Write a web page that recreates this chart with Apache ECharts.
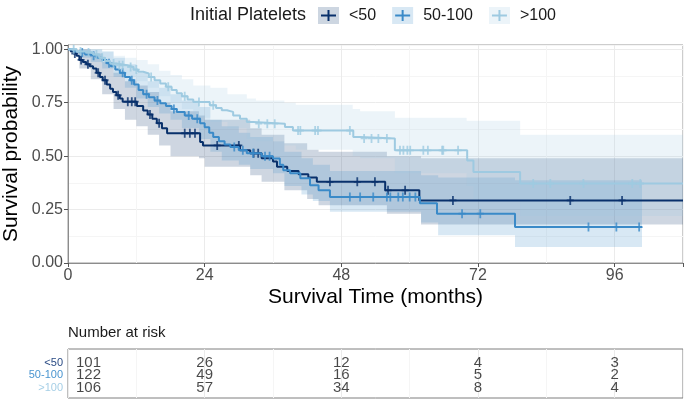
<!DOCTYPE html>
<html><head><meta charset="utf-8">
<script src="https://cdn.jsdelivr.net/npm/echarts/dist/echarts.min.js"></script>
<style>html,body{margin:0;padding:0;background:#fff}#c{width:685px;height:406px}</style>
</head><body><div id="c"></div>
<script>
// ---------- data ----------
const groups = ['<50', '50-100', '>100'];
const xTicks = [0, 24, 48, 72, 96];
const yTicks = [0, 0.25, 0.5, 0.75, 1];

// Kaplan-Meier step curves (time in months, survival probability)
const lowT = [0,0.5,1.0,1.5,2.0,2.6,3.2,3.8,4.4,5.0,5.6,6.1,6.8,7.4,7.9,8.5,9.1,9.6,12.1,13.2,14.0,14.8,15.6,16.5,17.4,23.2,23.7,30.2,32.0,34.0,36.0,36.7,38.5,40.5,42.2,43.7,55.7,61.7];
const lowS = [1,0.99,0.98,0.97,0.95,0.94,0.93,0.92,0.91,0.89,0.87,0.855,0.835,0.815,0.80,0.785,0.77,0.755,0.735,0.714,0.695,0.675,0.654,0.63,0.607,0.566,0.55,0.527,0.513,0.49,0.475,0.45,0.43,0.415,0.40,0.38,0.34,0.293];
const lowEnd = 108;
const lowCens = [1.2,2.3,3.5,5.3,6.5,8.8,10.5,11.2,11.8,14.4,16.0,20.5,21.4,22.3,26.2,30.0,32.6,33.4,46,50.8,53.9,56.2,59.2,67.6,88.2,97.3];

const midT = [0,1,2,3,4,5,6,6.8,7.5,8.3,9.1,10,10.9,11.6,12.4,13.2,14.2,15.2,16.2,17.2,18.2,19.1,20.5,21.8,23.2,24.0,24.8,25.5,26.5,27.5,28.5,30,31.4,34,36,37.2,37.8,39,40.8,42.5,44,46,61.8,64.8,78.5];
const midS = [1,0.99,0.985,0.975,0.97,0.96,0.95,0.935,0.92,0.905,0.89,0.87,0.855,0.835,0.81,0.79,0.775,0.76,0.747,0.735,0.72,0.707,0.69,0.675,0.654,0.635,0.61,0.59,0.57,0.555,0.543,0.528,0.513,0.50,0.489,0.46,0.434,0.42,0.396,0.364,0.34,0.309,0.279,0.231,0.168];
const midEnd = 100.8;
const midCens = [2.5,4.5,7.2,9.6,11.2,13.8,15.7,18.6,21.2,22.7,29.2,30.7,32.5,34.6,35.4,49.5,51.3,53.6,56,56.6,58,58.8,60,61,69.2,72.4,91.4,96.3,100.3];

const highT = [0,1.5,3.0,4.4,5.5,6.5,7.4,8.5,10.4,11.5,12.3,13.2,14.2,15.2,16.2,17.2,18.2,19.1,20,21,22,24.9,26,27,27.9,29,30.2,31.4,32.5,38.1,39.5,50.1,51.3,57.4,70.1,71.2,79.4];
const highS = [1,0.99,0.985,0.975,0.96,0.945,0.933,0.925,0.917,0.905,0.895,0.887,0.87,0.855,0.84,0.825,0.81,0.794,0.78,0.765,0.753,0.738,0.725,0.715,0.707,0.69,0.675,0.66,0.652,0.636,0.62,0.59,0.583,0.527,0.48,0.426,0.372];
const highEnd = 108;
const highCens = [1,2.2,3.6,5,6,8,9,9.6,11,12,14.6,17.6,20.5,23,25.5,33.5,35,36.3,40.4,40.8,43.4,43.9,49.5,52,53.3,54.5,56,58.3,58.9,59.6,60.1,62.4,63.2,65.7,65.9,68.5,81.7,84.7,90.5,99.1,100.5];

// confidence bands (step functions)
const lowBandT = [0,2,4,6,8,10,12,14,16,18,23,24,32,34,38,42,44,56,62];
const lowLo = [1,0.91,0.86,0.79,0.72,0.67,0.64,0.60,0.55,0.50,0.49,0.45,0.41,0.38,0.34,0.30,0.27,0.23,0.18];
const lowHi = [1,1,0.98,0.94,0.89,0.85,0.83,0.80,0.75,0.71,0.69,0.67,0.63,0.60,0.56,0.53,0.52,0.50,0.49];

const midBandT = [0,2,4,6,8,10,12,14,16,18,20,23,25,27,30,32,36,38,41,43,46,62,65,78.5];
const midLo = [1,0.96,0.94,0.91,0.87,0.82,0.77,0.73,0.70,0.67,0.63,0.58,0.52,0.48,0.46,0.44,0.42,0.36,0.32,0.29,0.24,0.19,0.13,0.075];
const midHi = [1,1,1,0.99,0.96,0.93,0.89,0.85,0.82,0.79,0.76,0.73,0.67,0.64,0.61,0.59,0.57,0.52,0.49,0.46,0.43,0.41,0.40,0.387];

const highBandT = [0,2,4,6,8,10,12,14,16,18,20,22,25,28,31.4,33,38,40,50,51.3,57.4,70,71.2,79.4];
const highLo = [1,0.97,0.95,0.92,0.88,0.87,0.85,0.82,0.78,0.75,0.72,0.68,0.66,0.63,0.58,0.57,0.55,0.53,0.50,0.49,0.42,0.36,0.30,0.22];
const highHi = [1,1,1,0.99,0.97,0.96,0.95,0.93,0.90,0.88,0.86,0.83,0.82,0.79,0.77,0.76,0.75,0.74,0.72,0.71,0.68,0.665,0.665,0.60];

// number at risk table
const riskTimes = [0, 24, 48, 72, 96];
const riskLow = [101, 26, 12, 4, 3];
const riskMid = [122, 49, 16, 5, 2];
const riskHigh = [106, 57, 34, 8, 4];

// ---------- styling ----------
const FONT = '"Liberation Sans", Arial, sans-serif';
const lineColors = ['#08306B', '#3A8AC8', '#9ECAE1'];
const rowLabelColors = ['#2B4C85', '#4A95D0', '#A6CFE6'];
const bandColors = ['rgba(8,48,107,0.2)', 'rgba(58,138,200,0.2)', 'rgba(158,202,225,0.2)'];
const legendBox = ['#CDD6E1', '#D8E8F4', '#ECF4F9'];

const curves = [
  {T: lowT, S: lowS, end: lowEnd, cens: lowCens, bT: lowBandT, lo: lowLo, hi: lowHi, risk: riskLow},
  {T: midT, S: midS, end: midEnd, cens: midCens, bT: midBandT, lo: midLo, hi: midHi, risk: riskMid},
  {T: highT, S: highS, end: highEnd, cens: highCens, bT: highBandT, lo: highLo, hi: highHi, risk: riskHigh}
];

function survAt(c, t) {
  let s = c.S[0];
  for (let i = 0; i < c.T.length; i++) { if (c.T[i] <= t) s = c.S[i]; }
  return s;
}

const crossPath = 'path://M-0.9,-4.5H0.9V-0.9H3.5V0.9H0.9V4.5H-0.9V0.9H-3.5V-0.9H-0.9Z';

const series = [];
// bands first
curves.forEach((c, gi) => {
  series.push({
    type: 'custom', name: groups[gi], xAxisIndex: 0, yAxisIndex: 0, z: 1, silent: true,
    clip: true,
    data: [[0, 0]],
    renderItem: function (params, api) {
      const up = [], dn = [];
      for (let i = 0; i < c.bT.length; i++) {
        const t1 = i + 1 < c.bT.length ? c.bT[i + 1] : c.end;
        up.push(api.coord([c.bT[i], c.hi[i]]), api.coord([t1, c.hi[i]]));
        dn.push(api.coord([c.bT[i], c.lo[i]]), api.coord([t1, c.lo[i]]));
      }
      return {type: 'polygon', shape: {points: up.concat(dn.reverse())}, style: {fill: bandColors[gi]}};
    }
  });
});
curves.forEach((c, gi) => {
  const pts = c.T.map((t, i) => [t, c.S[i]]);
  pts.push([c.end, c.S[c.S.length - 1]]);
  series.push({
    type: 'line', name: groups[gi], xAxisIndex: 0, yAxisIndex: 0, z: 3 + gi,
    step: 'end', symbol: 'none', data: pts, silent: true,
    lineStyle: {color: lineColors[gi], width: 2}, itemStyle: {color: lineColors[gi]}
  });
  series.push({
    type: 'scatter', name: groups[gi], xAxisIndex: 0, yAxisIndex: 0, z: 3 + gi,
    symbol: crossPath, symbolSize: [7, 9], silent: true,
    itemStyle: {color: lineColors[gi]},
    data: c.cens.map(t => [t, survAt(c, t)])
  });
});
// risk table values
curves.forEach((c, gi) => {
  series.push({
    type: 'scatter', xAxisIndex: 3, yAxisIndex: 3, symbolSize: 1, silent: true,
    itemStyle: {color: 'rgba(0,0,0,0)'},
    label: {show: true, position: 'inside', formatter: p => String(p.value[2]), fontSize: 15, color: '#1a1a1a', fontFamily: FONT},
    data: riskTimes.map((t, k) => {
      const d = {value: [t, groups[gi], c.risk[k]]};
      if (k === 0) d.label = {align: 'left', offset: [8, 0]};
      return d;
    })
  });
});

const gridLineMajor = '#EBEBEB', gridLineMinor = '#F5F5F5';
const hiddenAxis = {axisLine: {show: false}, axisTick: {show: false}, axisLabel: {show: false}};

const option = {
  animation: false,
  backgroundColor: '#fff',
  textStyle: {fontFamily: FONT},
  grid: [
    {left: 68, right: 2, top: 45, bottom: 143, show: true, borderColor: '#9A9A9A', borderWidth: 1, backgroundColor: '#fff', containLabel: false, outerBoundsMode: 'none'},
    {left: 68, right: 2, top: 349, bottom: 8, show: true, borderColor: '#7F7F7F', borderWidth: 1, backgroundColor: '#fff', containLabel: false, outerBoundsMode: 'none'},
    {left: 68, right: 2, top: 356.5, bottom: 12, show: false, containLabel: false, outerBoundsMode: 'none'}
  ],
  legend: {
    left: 318, top: 7, padding: 0, itemWidth: 21, itemHeight: 17, itemGap: 16, selectedMode: false,
    textStyle: {fontSize: 16, color: '#1a1a1a', fontFamily: FONT, padding: [0, 0, 0, 5]},
    data: groups.map((g, i) => ({name: g, icon: 'rect', itemStyle: {color: legendBox[i], borderWidth: 0}, lineStyle: {width: 0, opacity: 0}}))
  },
  xAxis: [
    {type: 'value', gridIndex: 0, min: 0, max: 108, interval: 24,
     name: 'Survival Time (months)', nameLocation: 'middle', nameGap: 24, nameMoveOverlap: false,
     nameTextStyle: {fontSize: 21, color: '#000', fontFamily: FONT},
     axisLine: {show: true, lineStyle: {color: '#8C8C8C', width: 1}},
     axisTick: {show: true, inside: false, length: 4, lineStyle: {color: '#555'}},
     axisLabel: {fontSize: 16, color: '#4D4D4D', margin: 5, fontFamily: FONT, showMinLabel: true, showMaxLabel: true, hideOverlap: false,
                 formatter: v => (xTicks.indexOf(v) >= 0 ? String(v) : '')},
     splitLine: {show: false}},
    Object.assign({type: 'value', gridIndex: 0, min: 0, max: 108, interval: 12, position: 'bottom',
     splitLine: {show: true, lineStyle: {color: [gridLineMajor, gridLineMinor], width: 1}}}, hiddenAxis),
    Object.assign({type: 'value', gridIndex: 1, min: 0, max: 108, interval: 12,
     splitLine: {show: true, lineStyle: {color: [gridLineMajor, gridLineMinor], width: 1}}}, hiddenAxis),
    Object.assign({type: 'value', gridIndex: 2, min: 0, max: 108, interval: 24, splitLine: {show: false}}, hiddenAxis)
  ],
  yAxis: [
    {type: 'value', gridIndex: 0, min: 0, max: 1.02, interval: 0.25,
     name: 'Survival probability', nameLocation: 'middle', nameGap: 46, nameMoveOverlap: false,
     nameTextStyle: {fontSize: 21, color: '#000', fontFamily: FONT},
     axisLine: {show: true, lineStyle: {color: '#8C8C8C', width: 1}},
     axisTick: {show: true, inside: false, length: 4, lineStyle: {color: '#555'}},
     axisLabel: {fontSize: 16, color: '#4D4D4D', margin: 5, fontFamily: FONT, showMinLabel: true, showMaxLabel: true, hideOverlap: false,
                 formatter: v => (yTicks.indexOf(v) >= 0 ? v.toFixed(2) : '')},
     splitLine: {show: false}},
    Object.assign({type: 'value', gridIndex: 0, min: 0, max: 1.02, interval: 0.125,
     splitLine: {show: true, lineStyle: {color: [gridLineMajor, gridLineMinor], width: 1}}}, hiddenAxis),
    Object.assign({type: 'value', gridIndex: 1, min: 0, max: 1, splitLine: {show: false}}, hiddenAxis),
    {type: 'category', gridIndex: 2, data: groups, inverse: true,
     axisLine: {show: false}, axisTick: {show: false}, splitLine: {show: false},
     axisLabel: {interval: 0, hideOverlap: false, margin: 5, fontSize: 11, fontFamily: FONT,
       formatter: (v, i) => '{g' + i + '|' + v + '}',
       rich: {g0: {color: rowLabelColors[0], fontSize: 11}, g1: {color: rowLabelColors[1], fontSize: 11}, g2: {color: rowLabelColors[2], fontSize: 11}}}}
  ],
  graphic: [
    {type: 'text', left: 190, top: 6, style: {text: 'Initial Platelets', fill: '#1a1a1a', font: '18px ' + FONT}},
    {type: 'text', left: 68, top: 325, style: {text: 'Number at risk', fill: '#1a1a1a', font: '15px ' + FONT}}
  ],
  series: series
};

const chart = echarts.init(document.getElementById('c'), null, {renderer: 'canvas'});
chart.setOption(option);

// legend key crosses, positioned from the rendered legend items
function addCrosses() {
  const view = chart.getViewOfComponentModel(chart.getModel().getComponent('legend'));
  const els = [];
  if (view && view.getContentGroup) {
    const content = view.getContentGroup();
    content.children().forEach((itemGroup, i) => {
      const gx = itemGroup.x + content.x + view.group.x;
      const gy = itemGroup.y + content.y + view.group.y;
      const cx = gx + 10.5, cy = gy + 8.5;
      els.push({type: 'line', shape: {x1: cx - 7.5, y1: cy, x2: cx + 7.5, y2: cy}, style: {stroke: lineColors[i], lineWidth: 2}, z: 100});
      els.push({type: 'line', shape: {x1: cx, y1: cy - 5.5, x2: cx, y2: cy + 5.5}, style: {stroke: lineColors[i], lineWidth: 2}, z: 100});
    });
  }
  chart.setOption({graphic: option.graphic.concat(els)});
}
try { addCrosses(); } catch (e) { console.log(e); }
</script>
</body></html>
